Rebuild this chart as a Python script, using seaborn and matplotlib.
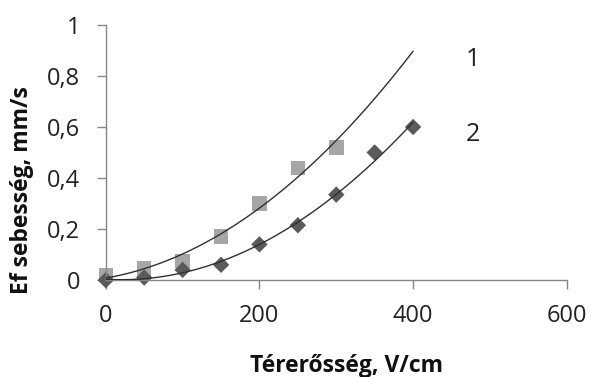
import numpy as np
import pandas as pd
import seaborn as sns
from matplotlib import pyplot as plt

# data
field_1 = [0, 50, 100, 150, 200, 250, 300]
speed_1 = [0.02, 0.045, 0.075, 0.17, 0.30, 0.44, 0.52]
field_2 = [0, 50, 100, 150, 200, 250, 300, 350, 400]
speed_2 = [0.0, 0.01, 0.04, 0.06, 0.14, 0.215, 0.335, 0.50, 0.60]
series_labels = ['1', '2']

sns.set_style('white')
plt.rcParams['font.family'] = ['Open Sans', 'DejaVu Sans']

df1 = pd.DataFrame({'x': field_1, 'y': speed_1})
df2 = pd.DataFrame({'x': field_2, 'y': speed_2})

# polynomial trend lines (2nd order), drawn up to 400 V/cm
xs = np.linspace(0, 400, 200)
c1 = np.polyfit(df1.x, df1.y, 2)
c2 = np.polyfit(df2.x, df2.y, 2)
tr1 = pd.DataFrame({'x': xs, 'y': np.polyval(c1, xs)})
tr2 = pd.DataFrame({'x': xs, 'y': np.polyval(c2, xs)})

fig = plt.figure(figsize=(5.91, 3.77), dpi=100)
ax = fig.add_axes([0.179, 0.257, 0.78, 0.677])

sns.scatterplot(data=df1, x='x', y='y', marker='s', s=110, color='#a6a6a6',
                edgecolor='none', ax=ax, zorder=2)
sns.scatterplot(data=df2, x='x', y='y', marker='D', s=70, color='#5a5a5a',
                edgecolor='none', ax=ax, zorder=2)
sns.lineplot(data=tr1, x='x', y='y', color='#303030', lw=1, ax=ax, zorder=3)
sns.lineplot(data=tr2, x='x', y='y', color='#303030', lw=1, ax=ax, zorder=3)

ax.text(478, 0.865, series_labels[0], fontsize=18, color='#222222', ha='center', va='center')
ax.text(478, 0.57, series_labels[1], fontsize=18, color='#222222', ha='center', va='center')

ax.set_xlim(0, 600)
ax.set_ylim(0, 1)
ax.set_xticks([0, 200, 400, 600])
ax.set_yticks([0, 0.2, 0.4, 0.6, 0.8, 1])
ax.set_yticklabels(['0', '0,2', '0,4', '0,6', '0,8', '1'])
ax.tick_params(axis='both', which='major', labelsize=17, colors='#868686',
               labelcolor='#222222', length=6.5, width=1, direction='out')
ax.tick_params(axis='x', bottom=True, pad=11)
ax.tick_params(axis='y', left=True, pad=12)
ax.set_xlabel('Térerősség, V/cm', fontsize=16.5, fontweight='bold', color='#111111')
ax.set_ylabel('Ef sebesség, mm/s', fontsize=16.5, fontweight='bold', color='#111111')
ax.xaxis.set_label_coords(0.523, -0.29)
ax.yaxis.set_label_coords(-0.155, 0.353)
sns.despine(ax=ax)
for s in ['left', 'bottom']:
    ax.spines[s].set_color('#868686')
    ax.spines[s].set_linewidth(1)
for m in ax.collections:
    m.set_clip_on(False)

plt.savefig('out.png', dpi=100)
plt.close()
